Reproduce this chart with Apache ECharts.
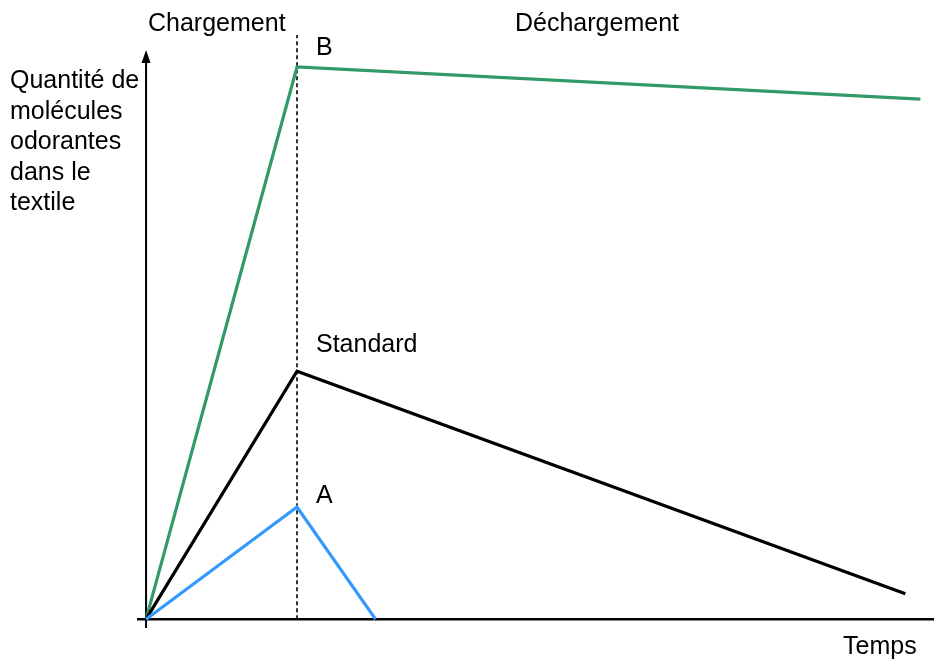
<!DOCTYPE html>
<html><head><meta charset="utf-8">
<script src="https://cdn.jsdelivr.net/npm/echarts@6/dist/echarts.min.js"></script>
<style>html,body{margin:0;padding:0;background:#fff}#c{width:934px;height:661px}</style>
</head><body><div id="c"></div>
<script>
// Time points (t=1 is the end of loading) and quantities (B peak = 100)
const timeB = [0, 1, 5.13];
const valB = [0, 100, 94.2];
const timeStd = [0, 1, 5.03];
const valStd = [0, 44.9, 4.6];
const timeA = [0, 1, 1.52];
const valA = [0, 20.3, 0];
const phaseBoundary = 1;
const xMin = -0.06, xMax = 5.22;
const yMin = -1.6, yMax = 105.8, yArrowTip = 103.1;
const yLabelLines = ['Quantité de', 'molécules', 'odorantes', 'dans le', 'textile'];

const FONT = '"Liberation Sans", Arial, Helvetica, sans-serif';
const FS = 25;
const chart = echarts.init(document.getElementById('c'), null, {renderer: 'canvas'});
const pair = (xs, ys) => xs.map((x, i) => [x, ys[i]]);
const lineSeries = (name, xs, ys, color, width, z) => ({
  name, type: 'line', data: pair(xs, ys), symbol: 'none', showSymbol: false, z: z || 5,
  lineStyle: {color, width: width || 3.2, cap: 'butt', join: 'miter'}, animation: false, silent: true
});
const txt = (text, x, y) => ({
  type: 'text', x, y, z: 10,
  style: {text, font: FS + 'px ' + FONT, fill: '#000', verticalAlign: 'middle', align: 'left'}
});

const xAxisLine = lineSeries('xaxis', [xMin, xMax], [0, 0], '#000', 2.5, 3);
const yAxisLine = lineSeries('yaxis', [0, 0], [yMin, yArrowTip - 1], '#000', 2, 3);
yAxisLine.markPoint = {
  silent: true, animation: false, label: {show: false},
  data: [{coord: [0, yArrowTip], symbol: 'triangle', symbolSize: [9, 13], symbolOffset: [0, 6.5],
          itemStyle: {color: '#000'}}]
};
const divider = lineSeries('divider', [phaseBoundary, phaseBoundary], [0, yMax], '#333', 2, 2);
divider.lineStyle.type = [4, 3];

chart.setOption({
  animation: false,
  grid: {left: 137, right: 0, top: 35, bottom: 33},
  xAxis: {type: 'value', min: xMin, max: xMax, show: false},
  yAxis: {type: 'value', min: yMin, max: yMax, show: false},
  series: [
    divider, xAxisLine, yAxisLine,
    lineSeries('B', timeB, valB, '#329a69'),
    lineSeries('Standard', timeStd, valStd, '#000000'),
    lineSeries('A', timeA, valA, '#3399ff')
  ],
  graphic: [
    txt('Chargement', 148, 24),
    txt('Déchargement', 515, 24),
    txt('B', 316, 48),
    txt('Standard', 316, 345),
    txt('A', 316, 496),
    txt('Temps', 843, 647),
    {
      type: 'text', x: 10, y: 66, z: 10,
      style: {text: yLabelLines.join('\n'), font: FS + 'px ' + FONT, fill: '#000',
              lineHeight: 30.5, verticalAlign: 'top', align: 'left'}
    }
  ]
});
</script></body></html>
